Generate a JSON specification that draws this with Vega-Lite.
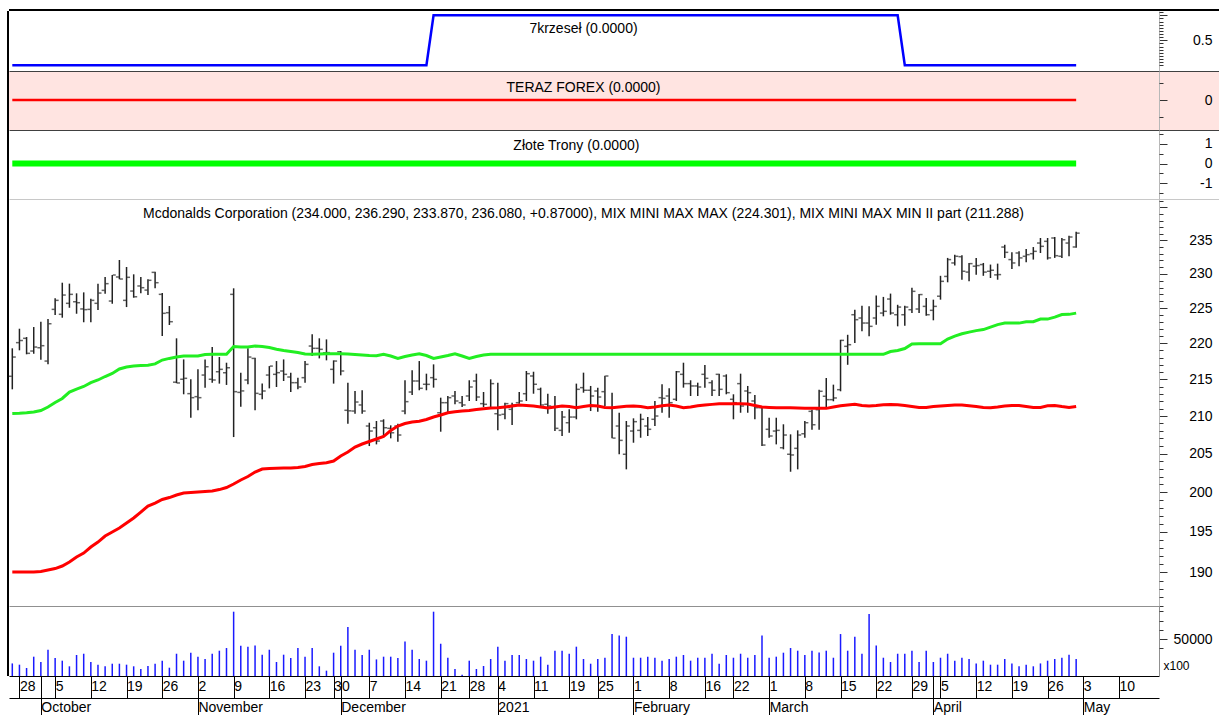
{
"$schema": "https://vega.github.io/schema/vega-lite/v6.json",
"padding": {"left": 0, "top": 8, "right": 0, "bottom": 0},
"autosize": {"type": "pad"},
"bounds": "flush",
"spacing": 0,
"background": "#ffffff",
"config": {"view": {"stroke": null}, "font": "Liberation Sans", "axis": {"labelFont": "Liberation Sans", "labelFontSize": 14, "labelColor": "#000000", "grid": false}},
"datasets": {
"krzesla": [{"date":"2020-09-25","value":0},{"date":"2020-12-17","value":0},{"date":"2020-12-18","value":1},{"date":"2021-03-25","value":1},{"date":"2021-03-26","value":0},{"date":"2021-04-30","value":0}],
"teraz": [{"date":"2020-09-25","value":0},{"date":"2021-04-30","value":0}],
"trony": [{"date":"2020-09-25","value":0},{"date":"2021-04-30","value":0}],
"prices": [
{"date":"2020-09-25","open":215.41,"high":219.30,"low":213.62,"close":218.08,"volume":17000,"mmMax":210.33,"mmMin":190.04},
{"date":"2020-09-28","open":220.10,"high":222.07,"low":219.02,"close":220.40,"volume":15300,"mmMax":210.36,"mmMin":190.04},
{"date":"2020-09-29","open":220.71,"high":220.89,"low":218.46,"close":218.60,"volume":10800,"mmMax":210.43,"mmMin":190.04},
{"date":"2020-09-30","open":218.92,"high":222.31,"low":218.54,"close":219.48,"volume":26100,"mmMax":210.54,"mmMin":190.04},
{"date":"2020-10-01","open":219.38,"high":223.07,"low":217.70,"close":219.67,"volume":18900,"mmMax":210.74,"mmMin":190.10},
{"date":"2020-10-02","open":217.52,"high":223.45,"low":217.07,"close":222.78,"volume":35500,"mmMax":211.21,"mmMin":190.28},
{"date":"2020-10-05","open":224.84,"high":226.43,"low":224.03,"close":226.14,"volume":24300,"mmMax":211.82,"mmMin":190.46},
{"date":"2020-10-06","open":224.13,"high":228.71,"low":223.64,"close":226.91,"volume":20700,"mmMax":212.37,"mmMin":190.77},
{"date":"2020-10-07","open":225.71,"high":228.57,"low":225.07,"close":227.01,"volume":13100,"mmMax":213.25,"mmMin":191.26},
{"date":"2020-10-08","open":225.94,"high":227.16,"low":224.21,"close":225.80,"volume":28400,"mmMax":213.66,"mmMin":191.87},
{"date":"2020-10-09","open":224.90,"high":227.30,"low":222.99,"close":224.80,"volume":30100,"mmMax":214.01,"mmMin":192.36},
{"date":"2020-10-12","open":224.84,"high":226.37,"low":222.99,"close":226.14,"volume":18900,"mmMax":214.53,"mmMin":193.10},
{"date":"2020-10-13","open":225.71,"high":228.57,"low":224.74,"close":227.20,"volume":15300,"mmMax":214.90,"mmMin":193.72},
{"date":"2020-10-14","open":227.59,"high":229.55,"low":227.10,"close":228.57,"volume":13100,"mmMax":215.38,"mmMin":194.47},
{"date":"2020-10-15","open":226.04,"high":229.84,"low":225.65,"close":229.84,"volume":16600,"mmMax":215.80,"mmMin":194.97},
{"date":"2020-10-16","open":229.55,"high":232.06,"low":229.21,"close":229.25,"volume":16600,"mmMax":216.42,"mmMin":195.47},
{"date":"2020-10-19","open":226.14,"high":231.02,"low":225.17,"close":229.50,"volume":15300,"mmMax":216.70,"mmMin":196.09},
{"date":"2020-10-20","open":227.49,"high":229.94,"low":226.52,"close":226.66,"volume":13100,"mmMax":216.84,"mmMin":196.73},
{"date":"2020-10-21","open":228.23,"high":229.55,"low":227.16,"close":227.98,"volume":9500,"mmMax":216.91,"mmMin":197.48},
{"date":"2020-10-22","open":227.63,"high":229.21,"low":226.91,"close":229.06,"volume":13500,"mmMax":216.94,"mmMin":198.24},
{"date":"2020-10-23","open":230.23,"high":230.33,"low":227.89,"close":228.71,"volume":16600,"mmMax":217.12,"mmMin":198.62},
{"date":"2020-10-26","open":227.01,"high":227.20,"low":221.03,"close":224.27,"volume":20700,"mmMax":217.66,"mmMin":199.07},
{"date":"2020-10-27","open":224.36,"high":225.32,"low":222.60,"close":223.07,"volume":11200,"mmMax":217.89,"mmMin":199.32},
{"date":"2020-10-28","open":214.60,"high":220.71,"low":214.45,"close":214.49,"volume":30100,"mmMax":218.08,"mmMin":199.64},
{"date":"2020-10-29","open":215.00,"high":217.75,"low":212.94,"close":215.13,"volume":20700,"mmMax":218.22,"mmMin":199.90},
{"date":"2020-10-30","open":213.03,"high":215.00,"low":209.77,"close":212.48,"volume":31500,"mmMax":218.22,"mmMin":199.96},
{"date":"2020-11-02","open":212.62,"high":216.37,"low":210.77,"close":212.48,"volume":26100,"mmMax":218.22,"mmMin":200.03},
{"date":"2020-11-03","open":215.58,"high":217.75,"low":213.84,"close":216.73,"volume":23000,"mmMax":218.43,"mmMin":200.09},
{"date":"2020-11-04","open":215.00,"high":219.48,"low":214.53,"close":214.90,"volume":30100,"mmMax":218.46,"mmMin":200.15},
{"date":"2020-11-05","open":216.04,"high":218.08,"low":214.40,"close":216.37,"volume":34200,"mmMax":218.46,"mmMin":200.34},
{"date":"2020-11-06","open":215.90,"high":217.29,"low":214.22,"close":216.59,"volume":37800,"mmMax":218.46,"mmMin":200.60},
{"date":"2020-11-09","open":227.01,"high":227.89,"low":207.19,"close":213.30,"volume":86900,"mmMax":219.55,"mmMin":201.05},
{"date":"2020-11-10","open":213.20,"high":215.90,"low":211.25,"close":213.40,"volume":40900,"mmMax":219.48,"mmMin":201.57},
{"date":"2020-11-11","open":214.90,"high":219.30,"low":214.31,"close":218.08,"volume":39600,"mmMax":219.48,"mmMin":202.02},
{"date":"2020-11-12","open":217.89,"high":217.98,"low":210.77,"close":213.07,"volume":41300,"mmMax":219.62,"mmMin":202.60},
{"date":"2020-11-13","open":212.94,"high":214.40,"low":212.26,"close":213.39,"volume":28800,"mmMax":219.55,"mmMin":202.99},
{"date":"2020-11-16","open":215.58,"high":216.82,"low":213.75,"close":216.82,"volume":35500,"mmMax":219.41,"mmMin":203.06},
{"date":"2020-11-17","open":215.68,"high":217.52,"low":213.94,"close":215.91,"volume":18900,"mmMax":219.16,"mmMin":203.09},
{"date":"2020-11-18","open":216.14,"high":217.75,"low":214.76,"close":215.68,"volume":28800,"mmMax":218.99,"mmMin":203.12},
{"date":"2020-11-19","open":215.31,"high":215.91,"low":213.25,"close":214.53,"volume":24300,"mmMax":218.85,"mmMin":203.12},
{"date":"2020-11-20","open":214.53,"high":215.22,"low":213.62,"close":213.94,"volume":37800,"mmMax":218.71,"mmMin":203.19},
{"date":"2020-11-23","open":215.22,"high":217.52,"low":214.53,"close":217.06,"volume":26100,"mmMax":218.50,"mmMin":203.32},
{"date":"2020-11-24","open":219.62,"high":221.27,"low":218.22,"close":219.30,"volume":37800,"mmMax":218.46,"mmMin":203.58},
{"date":"2020-11-25","open":219.30,"high":220.71,"low":217.89,"close":219.16,"volume":13100,"mmMax":218.50,"mmMin":203.71},
{"date":"2020-11-27","open":218.68,"high":220.56,"low":217.62,"close":218.70,"volume":7200,"mmMax":218.54,"mmMin":203.82},
{"date":"2020-11-30","open":216.37,"high":217.62,"low":214.40,"close":217.52,"volume":31500,"mmMax":218.54,"mmMin":204.04},
{"date":"2020-12-01","open":218.82,"high":218.92,"low":215.54,"close":216.14,"volume":40900,"mmMax":218.54,"mmMin":204.69},
{"date":"2020-12-02","open":210.77,"high":214.53,"low":208.97,"close":210.70,"volume":66200,"mmMax":218.50,"mmMin":205.21},
{"date":"2020-12-03","open":210.67,"high":213.39,"low":210.31,"close":211.89,"volume":35500,"mmMax":218.43,"mmMin":205.87},
{"date":"2020-12-04","open":211.49,"high":213.49,"low":210.31,"close":210.67,"volume":28400,"mmMax":218.36,"mmMin":206.27},
{"date":"2020-12-07","open":208.66,"high":209.10,"low":206.00,"close":207.99,"volume":35500,"mmMax":218.29,"mmMin":206.60},
{"date":"2020-12-08","open":208.43,"high":209.33,"low":206.22,"close":206.66,"volume":22400,"mmMax":218.26,"mmMin":206.93},
{"date":"2020-12-09","open":209.33,"high":209.56,"low":207.19,"close":208.43,"volume":26100,"mmMax":218.46,"mmMin":207.26},
{"date":"2020-12-10","open":208.35,"high":208.75,"low":207.02,"close":207.76,"volume":26100,"mmMax":218.22,"mmMin":208.06},
{"date":"2020-12-11","open":208.66,"high":208.97,"low":206.57,"close":207.46,"volume":24300,"mmMax":217.89,"mmMin":208.66},
{"date":"2020-12-14","open":210.67,"high":214.86,"low":210.23,"close":211.94,"volume":46700,"mmMax":218.15,"mmMin":208.99},
{"date":"2020-12-15","open":213.25,"high":216.24,"low":212.85,"close":214.76,"volume":35500,"mmMax":218.36,"mmMin":209.19},
{"date":"2020-12-16","open":214.76,"high":217.52,"low":213.49,"close":213.76,"volume":23000,"mmMax":218.54,"mmMin":209.30},
{"date":"2020-12-17","open":214.31,"high":215.77,"low":213.49,"close":214.30,"volume":20700,"mmMax":218.29,"mmMin":209.53},
{"date":"2020-12-18","open":215.22,"high":217.06,"low":213.85,"close":214.99,"volume":86900,"mmMax":217.89,"mmMin":209.86},
{"date":"2020-12-21","open":210.44,"high":212.48,"low":207.90,"close":211.80,"volume":43600,"mmMax":218.08,"mmMin":210.13},
{"date":"2020-12-22","open":211.80,"high":212.71,"low":210.44,"close":212.48,"volume":24700,"mmMax":218.29,"mmMin":210.44},
{"date":"2020-12-23","open":212.71,"high":213.39,"low":211.58,"close":212.03,"volume":9500,"mmMax":218.54,"mmMin":210.58},
{"date":"2020-12-24","open":211.80,"high":212.71,"low":211.21,"close":211.49,"volume":1800,"mmMax":218.22,"mmMin":210.67},
{"date":"2020-12-28","open":212.71,"high":214.86,"low":212.03,"close":213.94,"volume":20700,"mmMax":217.89,"mmMin":210.74},
{"date":"2020-12-29","open":214.76,"high":215.77,"low":212.03,"close":212.57,"volume":9500,"mmMax":218.15,"mmMin":210.87},
{"date":"2020-12-30","open":211.67,"high":213.25,"low":211.21,"close":211.58,"volume":13500,"mmMax":218.36,"mmMin":210.98},
{"date":"2020-12-31","open":211.12,"high":214.99,"low":211.04,"close":214.40,"volume":23000,"mmMax":218.46,"mmMin":211.07},
{"date":"2021-01-04","open":210.31,"high":214.53,"low":208.08,"close":210.13,"volume":39600,"mmMax":218.46,"mmMin":211.10},
{"date":"2021-01-05","open":210.23,"high":211.80,"low":209.56,"close":211.67,"volume":20700,"mmMax":218.46,"mmMin":211.21},
{"date":"2021-01-06","open":210.90,"high":211.80,"low":208.79,"close":211.49,"volume":28400,"mmMax":218.46,"mmMin":211.34},
{"date":"2021-01-07","open":211.80,"high":213.25,"low":211.67,"close":212.03,"volume":28400,"mmMax":218.46,"mmMin":211.47},
{"date":"2021-01-08","open":213.02,"high":216.14,"low":212.03,"close":215.77,"volume":23000,"mmMax":218.46,"mmMin":211.43},
{"date":"2021-01-11","open":215.45,"high":216.04,"low":213.02,"close":214.31,"volume":20700,"mmMax":218.46,"mmMin":211.34},
{"date":"2021-01-12","open":213.62,"high":213.85,"low":211.12,"close":211.49,"volume":26100,"mmMax":218.46,"mmMin":211.21},
{"date":"2021-01-13","open":211.58,"high":213.02,"low":210.31,"close":211.35,"volume":15300,"mmMax":218.46,"mmMin":211.07},
{"date":"2021-01-14","open":211.21,"high":212.71,"low":207.99,"close":208.35,"volume":34200,"mmMax":218.46,"mmMin":211.21},
{"date":"2021-01-15","open":208.08,"high":210.67,"low":207.33,"close":209.86,"volume":34200,"mmMax":218.46,"mmMin":211.34},
{"date":"2021-01-19","open":209.10,"high":210.90,"low":207.76,"close":209.86,"volume":30100,"mmMax":218.46,"mmMin":211.27},
{"date":"2021-01-20","open":209.86,"high":214.40,"low":209.56,"close":213.62,"volume":39600,"mmMax":218.46,"mmMin":211.11},
{"date":"2021-01-21","open":213.85,"high":215.91,"low":213.16,"close":213.49,"volume":23000,"mmMax":218.46,"mmMin":211.27},
{"date":"2021-01-22","open":213.49,"high":214.08,"low":210.67,"close":212.71,"volume":16600,"mmMax":218.46,"mmMin":211.43},
{"date":"2021-01-25","open":213.39,"high":213.85,"low":210.58,"close":212.57,"volume":23000,"mmMax":218.46,"mmMin":211.34},
{"date":"2021-01-26","open":213.30,"high":215.49,"low":211.35,"close":215.45,"volume":24700,"mmMax":218.46,"mmMin":211.16},
{"date":"2021-01-27","open":211.12,"high":213.16,"low":207.02,"close":207.05,"volume":56700,"mmMax":218.46,"mmMin":211.11},
{"date":"2021-01-28","open":208.66,"high":210.44,"low":204.92,"close":206.75,"volume":54900,"mmMax":218.46,"mmMin":211.21},
{"date":"2021-01-29","open":204.92,"high":209.33,"low":202.95,"close":208.66,"volume":53100,"mmMax":218.46,"mmMin":211.31},
{"date":"2021-02-01","open":207.99,"high":209.69,"low":206.44,"close":209.24,"volume":24700,"mmMax":218.46,"mmMin":211.34},
{"date":"2021-02-02","open":208.08,"high":210.31,"low":207.10,"close":209.56,"volume":24700,"mmMax":218.46,"mmMin":211.27},
{"date":"2021-02-03","open":208.66,"high":209.86,"low":207.33,"close":208.22,"volume":26100,"mmMax":218.46,"mmMin":211.11},
{"date":"2021-02-04","open":209.56,"high":212.03,"low":208.66,"close":210.00,"volume":24700,"mmMax":218.46,"mmMin":211.23},
{"date":"2021-02-05","open":212.48,"high":214.31,"low":210.44,"close":212.39,"volume":20700,"mmMax":218.46,"mmMin":211.38},
{"date":"2021-02-08","open":212.71,"high":213.76,"low":209.77,"close":211.80,"volume":23000,"mmMax":218.46,"mmMin":211.47},
{"date":"2021-02-09","open":212.26,"high":216.14,"low":212.03,"close":216.04,"volume":26100,"mmMax":218.46,"mmMin":211.34},
{"date":"2021-02-10","open":215.68,"high":217.29,"low":213.85,"close":214.40,"volume":28400,"mmMax":218.46,"mmMin":211.11},
{"date":"2021-02-11","open":214.40,"high":214.86,"low":212.71,"close":214.08,"volume":20700,"mmMax":218.46,"mmMin":211.21},
{"date":"2021-02-12","open":214.08,"high":214.53,"low":212.71,"close":213.94,"volume":24700,"mmMax":218.46,"mmMin":211.38},
{"date":"2021-02-16","open":215.68,"high":216.97,"low":213.85,"close":215.13,"volume":24700,"mmMax":218.46,"mmMin":211.47},
{"date":"2021-02-17","open":214.53,"high":214.86,"low":212.71,"close":213.49,"volume":30100,"mmMax":218.46,"mmMin":211.57},
{"date":"2021-02-18","open":215.68,"high":215.77,"low":212.71,"close":213.62,"volume":16600,"mmMax":218.46,"mmMin":211.65},
{"date":"2021-02-19","open":215.45,"high":215.68,"low":212.94,"close":213.16,"volume":28400,"mmMax":218.46,"mmMin":211.65},
{"date":"2021-02-22","open":212.26,"high":212.94,"low":209.56,"close":211.80,"volume":24700,"mmMax":218.46,"mmMin":211.65},
{"date":"2021-02-23","open":214.40,"high":215.77,"low":210.44,"close":211.35,"volume":30100,"mmMax":218.46,"mmMin":211.65},
{"date":"2021-02-24","open":213.39,"high":214.08,"low":210.44,"close":213.16,"volume":24700,"mmMax":218.46,"mmMin":211.61},
{"date":"2021-02-25","open":212.03,"high":212.85,"low":209.56,"close":211.12,"volume":28400,"mmMax":218.46,"mmMin":211.41},
{"date":"2021-02-26","open":211.12,"high":211.35,"low":206.00,"close":206.13,"volume":54900,"mmMax":218.46,"mmMin":211.21},
{"date":"2021-03-01","open":208.22,"high":209.77,"low":207.10,"close":207.33,"volume":24700,"mmMax":218.46,"mmMin":211.16},
{"date":"2021-03-02","open":207.99,"high":209.77,"low":206.22,"close":208.08,"volume":26100,"mmMax":218.46,"mmMin":211.11},
{"date":"2021-03-03","open":205.78,"high":208.89,"low":205.57,"close":207.46,"volume":31500,"mmMax":218.46,"mmMin":211.11},
{"date":"2021-03-04","open":204.92,"high":207.55,"low":202.64,"close":204.83,"volume":37800,"mmMax":218.46,"mmMin":211.11},
{"date":"2021-03-05","open":205.70,"high":208.08,"low":202.95,"close":207.46,"volume":34200,"mmMax":218.46,"mmMin":211.07},
{"date":"2021-03-08","open":207.63,"high":209.33,"low":207.10,"close":209.10,"volume":28400,"mmMax":218.46,"mmMin":211.03},
{"date":"2021-03-09","open":210.63,"high":210.85,"low":208.16,"close":208.83,"volume":34200,"mmMax":218.46,"mmMin":211.03},
{"date":"2021-03-10","open":210.85,"high":213.57,"low":208.16,"close":213.35,"volume":31900,"mmMax":218.46,"mmMin":211.03},
{"date":"2021-03-11","open":212.67,"high":215.17,"low":211.07,"close":212.21,"volume":34200,"mmMax":218.46,"mmMin":211.03},
{"date":"2021-03-12","open":212.21,"high":214.26,"low":211.99,"close":212.44,"volume":24700,"mmMax":218.46,"mmMin":211.21},
{"date":"2021-03-15","open":213.57,"high":220.51,"low":213.35,"close":220.42,"volume":56700,"mmMax":218.46,"mmMin":211.38},
{"date":"2021-03-16","open":219.58,"high":221.21,"low":217.00,"close":219.81,"volume":34200,"mmMax":218.46,"mmMin":211.47},
{"date":"2021-03-17","open":224.07,"high":224.79,"low":220.05,"close":223.36,"volume":53100,"mmMax":218.46,"mmMin":211.57},
{"date":"2021-03-18","open":223.60,"high":225.36,"low":221.70,"close":222.88,"volume":30100,"mmMax":218.46,"mmMin":211.41},
{"date":"2021-03-19","open":222.88,"high":225.27,"low":220.99,"close":222.41,"volume":83800,"mmMax":218.46,"mmMin":211.34},
{"date":"2021-03-22","open":223.60,"high":226.83,"low":222.65,"close":225.27,"volume":41300,"mmMax":218.46,"mmMin":211.41},
{"date":"2021-03-23","open":224.31,"high":226.64,"low":223.84,"close":224.56,"volume":24700,"mmMax":218.46,"mmMin":211.51},
{"date":"2021-03-24","open":226.33,"high":227.12,"low":224.07,"close":224.31,"volume":18900,"mmMax":218.85,"mmMin":211.57},
{"date":"2021-03-25","open":224.07,"high":225.50,"low":222.41,"close":225.17,"volume":30100,"mmMax":218.99,"mmMin":211.51},
{"date":"2021-03-26","open":224.07,"high":225.36,"low":222.50,"close":225.17,"volume":30100,"mmMax":219.27,"mmMin":211.41},
{"date":"2021-03-29","open":224.79,"high":227.97,"low":224.31,"close":227.45,"volume":34200,"mmMax":219.90,"mmMin":211.27},
{"date":"2021-03-30","open":224.89,"high":227.05,"low":224.31,"close":226.98,"volume":18900,"mmMax":219.94,"mmMin":211.14},
{"date":"2021-03-31","open":225.27,"high":226.49,"low":223.93,"close":224.07,"volume":34200,"mmMax":219.94,"mmMin":211.14},
{"date":"2021-04-01","open":224.70,"high":226.24,"low":223.27,"close":225.27,"volume":18900,"mmMax":219.94,"mmMin":211.27},
{"date":"2021-04-05","open":226.74,"high":229.72,"low":226.24,"close":228.91,"volume":24700,"mmMax":219.94,"mmMin":211.34},
{"date":"2021-04-06","open":229.63,"high":232.37,"low":228.77,"close":232.12,"volume":30100,"mmMax":220.61,"mmMin":211.41},
{"date":"2021-04-07","open":231.62,"high":232.85,"low":231.23,"close":232.61,"volume":20700,"mmMax":221.03,"mmMin":211.47},
{"date":"2021-04-08","open":232.55,"high":232.76,"low":229.15,"close":230.39,"volume":24700,"mmMax":221.35,"mmMin":211.47},
{"date":"2021-04-09","open":230.27,"high":231.62,"low":228.91,"close":231.52,"volume":23000,"mmMax":221.59,"mmMin":211.38},
{"date":"2021-04-12","open":231.14,"high":232.37,"low":229.86,"close":231.23,"volume":17000,"mmMax":221.80,"mmMin":211.27},
{"date":"2021-04-13","open":231.38,"high":231.62,"low":229.72,"close":230.27,"volume":20700,"mmMax":221.95,"mmMin":211.16},
{"date":"2021-04-14","open":230.39,"high":231.38,"low":229.40,"close":230.54,"volume":15300,"mmMax":222.30,"mmMin":211.11},
{"date":"2021-04-15","open":229.86,"high":231.52,"low":229.15,"close":229.90,"volume":15300,"mmMax":222.66,"mmMin":211.21},
{"date":"2021-04-16","open":233.99,"high":234.34,"low":232.37,"close":233.20,"volume":23000,"mmMax":222.87,"mmMin":211.34},
{"date":"2021-04-19","open":232.12,"high":233.20,"low":230.74,"close":231.62,"volume":17000,"mmMax":222.87,"mmMin":211.43},
{"date":"2021-04-20","open":233.10,"high":233.35,"low":231.14,"close":232.37,"volume":13100,"mmMax":222.87,"mmMin":211.41},
{"date":"2021-04-21","open":232.61,"high":233.70,"low":231.72,"close":232.85,"volume":15300,"mmMax":223.06,"mmMin":211.27},
{"date":"2021-04-22","open":233.00,"high":233.99,"low":232.12,"close":233.35,"volume":13100,"mmMax":223.06,"mmMin":211.14},
{"date":"2021-04-23","open":234.59,"high":235.35,"low":233.10,"close":234.10,"volume":17000,"mmMax":223.44,"mmMin":211.16},
{"date":"2021-04-26","open":234.85,"high":235.35,"low":232.12,"close":232.37,"volume":20700,"mmMax":223.44,"mmMin":211.38},
{"date":"2021-04-27","open":235.35,"high":235.50,"low":232.37,"close":232.70,"volume":23000,"mmMax":223.73,"mmMin":211.43},
{"date":"2021-04-28","open":232.61,"high":235.35,"low":232.37,"close":235.09,"volume":24700,"mmMax":224.09,"mmMin":211.27},
{"date":"2021-04-29","open":234.59,"high":235.69,"low":232.61,"close":235.50,"volume":28800,"mmMax":224.12,"mmMin":211.14},
{"date":"2021-04-30","open":234.00,"high":236.29,"low":233.87,"close":236.08,"volume":23000,"mmMax":224.30,"mmMin":211.29}
]
},
"vconcat": [
{
"width": 1210, "height": 60,
"data": {"name": "krzesla"},
"layer": [
{"mark": {"type": "line", "color": "#0000ff", "strokeWidth": 2.5},
"encoding": {
"x": {"field": "date", "type": "ordinal", "scale": {"type": "point", "padding": 0.734, "align": 0.315, "round": false, "domain": ["2020-09-25","2020-09-28","2020-09-29","2020-09-30","2020-10-01","2020-10-02","2020-10-05","2020-10-06","2020-10-07","2020-10-08","2020-10-09","2020-10-12","2020-10-13","2020-10-14","2020-10-15","2020-10-16","2020-10-19","2020-10-20","2020-10-21","2020-10-22","2020-10-23","2020-10-26","2020-10-27","2020-10-28","2020-10-29","2020-10-30","2020-11-02","2020-11-03","2020-11-04","2020-11-05","2020-11-06","2020-11-09","2020-11-10","2020-11-11","2020-11-12","2020-11-13","2020-11-16","2020-11-17","2020-11-18","2020-11-19","2020-11-20","2020-11-23","2020-11-24","2020-11-25","2020-11-27","2020-11-30","2020-12-01","2020-12-02","2020-12-03","2020-12-04","2020-12-07","2020-12-08","2020-12-09","2020-12-10","2020-12-11","2020-12-14","2020-12-15","2020-12-16","2020-12-17","2020-12-18","2020-12-21","2020-12-22","2020-12-23","2020-12-24","2020-12-28","2020-12-29","2020-12-30","2020-12-31","2021-01-04","2021-01-05","2021-01-06","2021-01-07","2021-01-08","2021-01-11","2021-01-12","2021-01-13","2021-01-14","2021-01-15","2021-01-19","2021-01-20","2021-01-21","2021-01-22","2021-01-25","2021-01-26","2021-01-27","2021-01-28","2021-01-29","2021-02-01","2021-02-02","2021-02-03","2021-02-04","2021-02-05","2021-02-08","2021-02-09","2021-02-10","2021-02-11","2021-02-12","2021-02-16","2021-02-17","2021-02-18","2021-02-19","2021-02-22","2021-02-23","2021-02-24","2021-02-25","2021-02-26","2021-03-01","2021-03-02","2021-03-03","2021-03-04","2021-03-05","2021-03-08","2021-03-09","2021-03-10","2021-03-11","2021-03-12","2021-03-15","2021-03-16","2021-03-17","2021-03-18","2021-03-19","2021-03-22","2021-03-23","2021-03-24","2021-03-25","2021-03-26","2021-03-29","2021-03-30","2021-03-31","2021-04-01","2021-04-05","2021-04-06","2021-04-07","2021-04-08","2021-04-09","2021-04-12","2021-04-13","2021-04-14","2021-04-15","2021-04-16","2021-04-19","2021-04-20","2021-04-21","2021-04-22","2021-04-23","2021-04-26","2021-04-27","2021-04-28","2021-04-29","2021-04-30","2021-05-03","2021-05-04","2021-05-05","2021-05-06","2021-05-07","2021-05-10","2021-05-11","2021-05-12","2021-05-13","2021-05-14","2021-05-17","2021-05-18","2021-05-19","2021-05-20","2021-05-21","2021-05-24","2021-05-25","2021-05-26","2021-05-27"]},
"axis": {"orient": "top", "offset": 1, "translate": 0, "domain": true, "domainColor": "#000000", "domainWidth": 2, "ticks": false, "labels": false, "minExtent": 0, "maxExtent": 0, "grid": false, "title": null}},
"y": {"field": "value", "type": "quantitative", "scale": {"domain": [-0.114, 1.086], "nice": false, "zero": false},
"axis": {"orient": "right", "offset": -60, "domain": true, "domainColor": "#b8b8b8", "tickColor": "#333333", "tickSize": 8, "labelAlign": "right", "labelBaseline": "middle", "labelPadding": 45, "labelFlush": false, "labelOverlap": false, "labelBound": false, "minExtent": 0, "grid": false, "title": null, "values": [0.5, 1], "labelExpr": "datum.value == 0.5 ? '0.5' : ''"}}
}},
{"mark": {"type": "line", "opacity": 0},
"encoding": {"x": {"field": "date", "type": "ordinal", "scale": {"type": "point"}, "axis": null},
"y": {"field": "value", "type": "quantitative", "axis": {"orient": "left", "offset": 1, "translate": 0, "domain": true, "domainColor": "#000000", "domainWidth": 2, "ticks": false, "labels": false, "minExtent": 0, "maxExtent": 0, "grid": false, "title": null}}}},
{"mark": {"type": "line", "opacity": 0},
"encoding": {"x": {"field": "date", "type": "ordinal", "scale": {"type": "point"}, "axis": null},
"y": {"field": "value", "type": "quantitative", "axis": {"orient": "right", "offset": -60, "domain": false, "tickColor": "#333333", "tickSize": 4, "labels": false, "minExtent": 0, "grid": false, "title": null, "values": [0, 0.0625, 0.125, 0.1875, 0.25, 0.3125, 0.375, 0.4375, 0.5625, 0.625, 0.6875, 0.75, 0.8125, 0.875, 0.9375, 1.0625]}}}},
{"data": {"values": [{"label": "7krzeseł (0.0000)"}]},
"mark": {"type": "text", "font": "Liberation Sans", "fontSize": 14, "color": "#000000", "align": "center", "baseline": "middle"},
"encoding": {"x": {"datum": "2021-01-21", "type": "ordinal", "scale": {"type": "point"}, "axis": null}, "y": {"datum": 0.726, "type": "quantitative", "axis": null}, "text": {"field": "label"}}}
],
"resolve": {"axis": {"x": "independent", "y": "independent"}}
},
{
"width": 1210, "height": 59,
"view": {"fill": "#ffe4e1", "stroke": null},
"data": {"name": "teraz"},
"layer": [
{"mark": {"type": "line", "color": "#ff0000", "strokeWidth": 2.5},
"encoding": {
"x": {"field": "date", "type": "ordinal", "scale": {"type": "point", "padding": 0.734, "align": 0.315, "round": false, "domain": ["2020-09-25","2020-09-28","2020-09-29","2020-09-30","2020-10-01","2020-10-02","2020-10-05","2020-10-06","2020-10-07","2020-10-08","2020-10-09","2020-10-12","2020-10-13","2020-10-14","2020-10-15","2020-10-16","2020-10-19","2020-10-20","2020-10-21","2020-10-22","2020-10-23","2020-10-26","2020-10-27","2020-10-28","2020-10-29","2020-10-30","2020-11-02","2020-11-03","2020-11-04","2020-11-05","2020-11-06","2020-11-09","2020-11-10","2020-11-11","2020-11-12","2020-11-13","2020-11-16","2020-11-17","2020-11-18","2020-11-19","2020-11-20","2020-11-23","2020-11-24","2020-11-25","2020-11-27","2020-11-30","2020-12-01","2020-12-02","2020-12-03","2020-12-04","2020-12-07","2020-12-08","2020-12-09","2020-12-10","2020-12-11","2020-12-14","2020-12-15","2020-12-16","2020-12-17","2020-12-18","2020-12-21","2020-12-22","2020-12-23","2020-12-24","2020-12-28","2020-12-29","2020-12-30","2020-12-31","2021-01-04","2021-01-05","2021-01-06","2021-01-07","2021-01-08","2021-01-11","2021-01-12","2021-01-13","2021-01-14","2021-01-15","2021-01-19","2021-01-20","2021-01-21","2021-01-22","2021-01-25","2021-01-26","2021-01-27","2021-01-28","2021-01-29","2021-02-01","2021-02-02","2021-02-03","2021-02-04","2021-02-05","2021-02-08","2021-02-09","2021-02-10","2021-02-11","2021-02-12","2021-02-16","2021-02-17","2021-02-18","2021-02-19","2021-02-22","2021-02-23","2021-02-24","2021-02-25","2021-02-26","2021-03-01","2021-03-02","2021-03-03","2021-03-04","2021-03-05","2021-03-08","2021-03-09","2021-03-10","2021-03-11","2021-03-12","2021-03-15","2021-03-16","2021-03-17","2021-03-18","2021-03-19","2021-03-22","2021-03-23","2021-03-24","2021-03-25","2021-03-26","2021-03-29","2021-03-30","2021-03-31","2021-04-01","2021-04-05","2021-04-06","2021-04-07","2021-04-08","2021-04-09","2021-04-12","2021-04-13","2021-04-14","2021-04-15","2021-04-16","2021-04-19","2021-04-20","2021-04-21","2021-04-22","2021-04-23","2021-04-26","2021-04-27","2021-04-28","2021-04-29","2021-04-30","2021-05-03","2021-05-04","2021-05-05","2021-05-06","2021-05-07","2021-05-10","2021-05-11","2021-05-12","2021-05-13","2021-05-14","2021-05-17","2021-05-18","2021-05-19","2021-05-20","2021-05-21","2021-05-24","2021-05-25","2021-05-26","2021-05-27"]},
"axis": {"orient": "top", "domain": true, "domainColor": "#404040", "domainWidth": 1, "ticks": false, "labels": false, "minExtent": 0, "maxExtent": 0, "grid": false, "title": null}},
"y": {"field": "value", "type": "quantitative", "scale": {"domain": [-1.796, 1.737], "nice": false, "zero": false},
"axis": {"orient": "right", "offset": -60, "domain": true, "domainColor": "#b8b8b8", "tickColor": "#333333", "tickSize": 8, "labelAlign": "right", "labelBaseline": "middle", "labelPadding": 45, "labelFlush": false, "labelOverlap": false, "labelBound": false, "minExtent": 0, "grid": false, "title": null, "values": [0], "labelExpr": "'0'"}}
}},
{"mark": {"type": "line", "opacity": 0},
"encoding": {"x": {"field": "date", "type": "ordinal", "scale": {"type": "point"}, "axis": null},
"y": {"field": "value", "type": "quantitative", "axis": {"orient": "left", "offset": 1, "translate": 0, "domain": true, "domainColor": "#000000", "domainWidth": 2, "ticks": false, "labels": false, "minExtent": 0, "maxExtent": 0, "grid": false, "title": null}}}},
{"mark": {"type": "line", "opacity": 0},
"encoding": {"x": {"field": "date", "type": "ordinal", "scale": {"type": "point"}, "axis": null},
"y": {"field": "value", "type": "quantitative", "axis": {"orient": "right", "offset": -60, "domain": false, "tickColor": "#333333", "tickSize": 4, "labels": false, "minExtent": 0, "grid": false, "title": null, "values": [-1, 1]}}}},
{"data": {"values": [{"label": "TERAZ FOREX (0.0000)"}]},
"mark": {"type": "text", "font": "Liberation Sans", "fontSize": 14, "color": "#000000", "align": "center", "baseline": "middle"},
"encoding": {"x": {"datum": "2021-01-21", "type": "ordinal", "scale": {"type": "point"}, "axis": null}, "y": {"datum": 0.72, "type": "quantitative", "axis": null}, "text": {"field": "label"}}}
],
"resolve": {"axis": {"x": "independent", "y": "independent"}}
},
{
"width": 1210, "height": 69,
"data": {"name": "trony"},
"layer": [
{"mark": {"type": "line", "color": "#00ff00", "strokeWidth": 6},
"encoding": {
"x": {"field": "date", "type": "ordinal", "scale": {"type": "point", "padding": 0.734, "align": 0.315, "round": false, "domain": ["2020-09-25","2020-09-28","2020-09-29","2020-09-30","2020-10-01","2020-10-02","2020-10-05","2020-10-06","2020-10-07","2020-10-08","2020-10-09","2020-10-12","2020-10-13","2020-10-14","2020-10-15","2020-10-16","2020-10-19","2020-10-20","2020-10-21","2020-10-22","2020-10-23","2020-10-26","2020-10-27","2020-10-28","2020-10-29","2020-10-30","2020-11-02","2020-11-03","2020-11-04","2020-11-05","2020-11-06","2020-11-09","2020-11-10","2020-11-11","2020-11-12","2020-11-13","2020-11-16","2020-11-17","2020-11-18","2020-11-19","2020-11-20","2020-11-23","2020-11-24","2020-11-25","2020-11-27","2020-11-30","2020-12-01","2020-12-02","2020-12-03","2020-12-04","2020-12-07","2020-12-08","2020-12-09","2020-12-10","2020-12-11","2020-12-14","2020-12-15","2020-12-16","2020-12-17","2020-12-18","2020-12-21","2020-12-22","2020-12-23","2020-12-24","2020-12-28","2020-12-29","2020-12-30","2020-12-31","2021-01-04","2021-01-05","2021-01-06","2021-01-07","2021-01-08","2021-01-11","2021-01-12","2021-01-13","2021-01-14","2021-01-15","2021-01-19","2021-01-20","2021-01-21","2021-01-22","2021-01-25","2021-01-26","2021-01-27","2021-01-28","2021-01-29","2021-02-01","2021-02-02","2021-02-03","2021-02-04","2021-02-05","2021-02-08","2021-02-09","2021-02-10","2021-02-11","2021-02-12","2021-02-16","2021-02-17","2021-02-18","2021-02-19","2021-02-22","2021-02-23","2021-02-24","2021-02-25","2021-02-26","2021-03-01","2021-03-02","2021-03-03","2021-03-04","2021-03-05","2021-03-08","2021-03-09","2021-03-10","2021-03-11","2021-03-12","2021-03-15","2021-03-16","2021-03-17","2021-03-18","2021-03-19","2021-03-22","2021-03-23","2021-03-24","2021-03-25","2021-03-26","2021-03-29","2021-03-30","2021-03-31","2021-04-01","2021-04-05","2021-04-06","2021-04-07","2021-04-08","2021-04-09","2021-04-12","2021-04-13","2021-04-14","2021-04-15","2021-04-16","2021-04-19","2021-04-20","2021-04-21","2021-04-22","2021-04-23","2021-04-26","2021-04-27","2021-04-28","2021-04-29","2021-04-30","2021-05-03","2021-05-04","2021-05-05","2021-05-06","2021-05-07","2021-05-10","2021-05-11","2021-05-12","2021-05-13","2021-05-14","2021-05-17","2021-05-18","2021-05-19","2021-05-20","2021-05-21","2021-05-24","2021-05-25","2021-05-26","2021-05-27"]},
"axis": {"orient": "top", "domain": true, "domainColor": "#404040", "domainWidth": 1, "ticks": false, "labels": false, "minExtent": 0, "maxExtent": 0, "grid": false, "title": null}},
"y": {"field": "value", "type": "quantitative", "scale": {"domain": [-1.802, 1.701], "nice": false, "zero": false},
"axis": {"orient": "right", "offset": -60, "domain": true, "domainColor": "#b8b8b8", "tickColor": "#333333", "tickSize": 8, "labelAlign": "right", "labelBaseline": "middle", "labelPadding": 45, "labelFlush": false, "labelOverlap": false, "labelBound": false, "minExtent": 0, "grid": false, "title": null, "values": [-1, 0, 1], "labelExpr": "datum.value < 0 ? '-' + (-datum.value) : '' + datum.value"}}
}},
{"mark": {"type": "line", "opacity": 0},
"encoding": {"x": {"field": "date", "type": "ordinal", "scale": {"type": "point"}, "axis": null},
"y": {"field": "value", "type": "quantitative", "axis": {"orient": "left", "offset": 1, "translate": 0, "domain": true, "domainColor": "#000000", "domainWidth": 2, "ticks": false, "labels": false, "minExtent": 0, "maxExtent": 0, "grid": false, "title": null}}}},
{"mark": {"type": "line", "opacity": 0},
"encoding": {"x": {"field": "date", "type": "ordinal", "scale": {"type": "point"}, "axis": null},
"y": {"field": "value", "type": "quantitative", "axis": {"orient": "right", "offset": -60, "domain": false, "tickColor": "#333333", "tickSize": 4, "labels": false, "minExtent": 0, "grid": false, "title": null, "values": [-1.5, -0.5, 0.5, 1.5]}}}},
{"data": {"values": [{"label": "Złote Trony (0.0000)"}]},
"mark": {"type": "text", "font": "Liberation Sans", "fontSize": 14, "color": "#000000", "align": "center", "baseline": "middle"},
"encoding": {"x": {"datum": "2021-01-20", "type": "ordinal", "scale": {"type": "point"}, "axis": null}, "y": {"datum": 0.89, "type": "quantitative", "axis": null}, "text": {"field": "label"}}}
],
"resolve": {"axis": {"x": "independent", "y": "independent"}}
},
{
"width": 1210, "height": 407,
"data": {"name": "prices"},
"layer": [
{"mark": {"type": "rule", "color": "#222222", "strokeWidth": 1.5},
"encoding": {
"x": {"field": "date", "type": "ordinal", "scale": {"type": "point", "padding": 0.734, "align": 0.315, "round": false, "domain": ["2020-09-25","2020-09-28","2020-09-29","2020-09-30","2020-10-01","2020-10-02","2020-10-05","2020-10-06","2020-10-07","2020-10-08","2020-10-09","2020-10-12","2020-10-13","2020-10-14","2020-10-15","2020-10-16","2020-10-19","2020-10-20","2020-10-21","2020-10-22","2020-10-23","2020-10-26","2020-10-27","2020-10-28","2020-10-29","2020-10-30","2020-11-02","2020-11-03","2020-11-04","2020-11-05","2020-11-06","2020-11-09","2020-11-10","2020-11-11","2020-11-12","2020-11-13","2020-11-16","2020-11-17","2020-11-18","2020-11-19","2020-11-20","2020-11-23","2020-11-24","2020-11-25","2020-11-27","2020-11-30","2020-12-01","2020-12-02","2020-12-03","2020-12-04","2020-12-07","2020-12-08","2020-12-09","2020-12-10","2020-12-11","2020-12-14","2020-12-15","2020-12-16","2020-12-17","2020-12-18","2020-12-21","2020-12-22","2020-12-23","2020-12-24","2020-12-28","2020-12-29","2020-12-30","2020-12-31","2021-01-04","2021-01-05","2021-01-06","2021-01-07","2021-01-08","2021-01-11","2021-01-12","2021-01-13","2021-01-14","2021-01-15","2021-01-19","2021-01-20","2021-01-21","2021-01-22","2021-01-25","2021-01-26","2021-01-27","2021-01-28","2021-01-29","2021-02-01","2021-02-02","2021-02-03","2021-02-04","2021-02-05","2021-02-08","2021-02-09","2021-02-10","2021-02-11","2021-02-12","2021-02-16","2021-02-17","2021-02-18","2021-02-19","2021-02-22","2021-02-23","2021-02-24","2021-02-25","2021-02-26","2021-03-01","2021-03-02","2021-03-03","2021-03-04","2021-03-05","2021-03-08","2021-03-09","2021-03-10","2021-03-11","2021-03-12","2021-03-15","2021-03-16","2021-03-17","2021-03-18","2021-03-19","2021-03-22","2021-03-23","2021-03-24","2021-03-25","2021-03-26","2021-03-29","2021-03-30","2021-03-31","2021-04-01","2021-04-05","2021-04-06","2021-04-07","2021-04-08","2021-04-09","2021-04-12","2021-04-13","2021-04-14","2021-04-15","2021-04-16","2021-04-19","2021-04-20","2021-04-21","2021-04-22","2021-04-23","2021-04-26","2021-04-27","2021-04-28","2021-04-29","2021-04-30","2021-05-03","2021-05-04","2021-05-05","2021-05-06","2021-05-07","2021-05-10","2021-05-11","2021-05-12","2021-05-13","2021-05-14","2021-05-17","2021-05-18","2021-05-19","2021-05-20","2021-05-21","2021-05-24","2021-05-25","2021-05-26","2021-05-27"]},
"axis": {"orient": "top", "domain": true, "domainColor": "#c8c8c8", "domainWidth": 1, "ticks": false, "labels": false, "minExtent": 0, "maxExtent": 0, "grid": false, "title": null}},
"y": {"field": "high", "type": "quantitative", "scale": {"type": "log", "domain": [185.95, 241.3], "nice": false, "zero": false},
"axis": {"orient": "right", "offset": -60, "domain": true, "domainColor": "#b8b8b8", "tickColor": "#333333", "tickSize": 8, "labelAlign": "right", "labelBaseline": "middle", "labelPadding": 45, "labelFlush": false, "labelOverlap": false, "labelBound": false, "minExtent": 0, "grid": false, "title": null, "values": [190, 195, 200, 205, 210, 215, 220, 225, 230, 235, 240], "labelExpr": "datum.value >= 240 ? '' : '' + datum.value"}},
"y2": {"field": "low"}
}},
{"mark": {"type": "tick", "orient": "horizontal", "color": "#222222", "size": 3, "thickness": 1.5, "xOffset": -2},
"encoding": {"x": {"field": "date", "type": "ordinal", "scale": {"type": "point"}, "axis": null},
"y": {"field": "open", "type": "quantitative", "scale": {"type": "log"}, "axis": {"orient": "left", "offset": 1, "translate": 0, "domain": true, "domainColor": "#000000", "domainWidth": 2, "ticks": false, "labels": false, "minExtent": 0, "maxExtent": 0, "grid": false, "title": null}}}},
{"mark": {"type": "tick", "orient": "horizontal", "color": "#222222", "size": 3, "thickness": 1.5, "xOffset": 2},
"encoding": {"x": {"field": "date", "type": "ordinal", "scale": {"type": "point"}, "axis": null},
"y": {"field": "close", "type": "quantitative", "scale": {"type": "log"}, "axis": {"orient": "right", "offset": -60, "domain": false, "tickColor": "#333333", "tickSize": 4, "labels": false, "minExtent": 0, "grid": false, "title": null, "values": [186,187,188,189,191,192,193,194,196,197,198,199,201,202,203,204,206,207,208,209,211,212,213,214,216,217,218,219,221,222,223,224,226,227,228,229,231,232,233,234,236,237,238,239,241]}}}},
{"mark": {"type": "line", "color": "#22ee22", "strokeWidth": 3},
"encoding": {"x": {"field": "date", "type": "ordinal", "scale": {"type": "point"}, "axis": null},
"y": {"field": "mmMax", "type": "quantitative", "scale": {"type": "log"}, "axis": null}}},
{"mark": {"type": "line", "color": "#ff0000", "strokeWidth": 3},
"encoding": {"x": {"field": "date", "type": "ordinal", "scale": {"type": "point"}, "axis": null},
"y": {"field": "mmMin", "type": "quantitative", "scale": {"type": "log"}, "axis": null}}},
{"data": {"values": [{"label": "Mcdonalds Corporation (234.000, 236.290, 233.870, 236.080, +0.87000), MIX MINI MAX MAX (224.301), MIX MINI MAX MIN II part (211.288)"}]},
"mark": {"type": "text", "font": "Liberation Sans", "fontSize": 14, "color": "#000000", "align": "center", "baseline": "middle"},
"encoding": {"x": {"datum": "2021-01-21", "type": "ordinal", "scale": {"type": "point"}, "axis": null}, "y": {"datum": 238.99, "type": "quantitative", "scale": {"type": "log"}, "axis": null}, "text": {"field": "label"}}}
],
"resolve": {"axis": {"x": "independent", "y": "independent"}}
},
{
"width": 1150, "height": 70,
"data": {"name": "prices"},
"layer": [
{"mark": {"type": "rule", "color": "#1a1aff", "strokeWidth": 1.5},
"encoding": {
"x": {"field": "date", "type": "ordinal", "scale": {"type": "point", "padding": 0.532, "align": 0.434, "round": false, "domain": ["2020-09-25","2020-09-28","2020-09-29","2020-09-30","2020-10-01","2020-10-02","2020-10-05","2020-10-06","2020-10-07","2020-10-08","2020-10-09","2020-10-12","2020-10-13","2020-10-14","2020-10-15","2020-10-16","2020-10-19","2020-10-20","2020-10-21","2020-10-22","2020-10-23","2020-10-26","2020-10-27","2020-10-28","2020-10-29","2020-10-30","2020-11-02","2020-11-03","2020-11-04","2020-11-05","2020-11-06","2020-11-09","2020-11-10","2020-11-11","2020-11-12","2020-11-13","2020-11-16","2020-11-17","2020-11-18","2020-11-19","2020-11-20","2020-11-23","2020-11-24","2020-11-25","2020-11-27","2020-11-30","2020-12-01","2020-12-02","2020-12-03","2020-12-04","2020-12-07","2020-12-08","2020-12-09","2020-12-10","2020-12-11","2020-12-14","2020-12-15","2020-12-16","2020-12-17","2020-12-18","2020-12-21","2020-12-22","2020-12-23","2020-12-24","2020-12-28","2020-12-29","2020-12-30","2020-12-31","2021-01-04","2021-01-05","2021-01-06","2021-01-07","2021-01-08","2021-01-11","2021-01-12","2021-01-13","2021-01-14","2021-01-15","2021-01-19","2021-01-20","2021-01-21","2021-01-22","2021-01-25","2021-01-26","2021-01-27","2021-01-28","2021-01-29","2021-02-01","2021-02-02","2021-02-03","2021-02-04","2021-02-05","2021-02-08","2021-02-09","2021-02-10","2021-02-11","2021-02-12","2021-02-16","2021-02-17","2021-02-18","2021-02-19","2021-02-22","2021-02-23","2021-02-24","2021-02-25","2021-02-26","2021-03-01","2021-03-02","2021-03-03","2021-03-04","2021-03-05","2021-03-08","2021-03-09","2021-03-10","2021-03-11","2021-03-12","2021-03-15","2021-03-16","2021-03-17","2021-03-18","2021-03-19","2021-03-22","2021-03-23","2021-03-24","2021-03-25","2021-03-26","2021-03-29","2021-03-30","2021-03-31","2021-04-01","2021-04-05","2021-04-06","2021-04-07","2021-04-08","2021-04-09","2021-04-12","2021-04-13","2021-04-14","2021-04-15","2021-04-16","2021-04-19","2021-04-20","2021-04-21","2021-04-22","2021-04-23","2021-04-26","2021-04-27","2021-04-28","2021-04-29","2021-04-30","2021-05-03","2021-05-04","2021-05-05","2021-05-06","2021-05-07","2021-05-10","2021-05-11","2021-05-12","2021-05-13","2021-05-14","2021-05-17"]},
"axis": {"orient": "bottom", "domain": true, "domainColor": "#000000", "ticks": true, "tickColor": "#000000", "tickSize": 22, "labelAlign": "left", "labelBaseline": "top", "labelPadding": -19, "labelDx": 2, "labelAngle": 0, "labelOverlap": false, "labelBound": false, "labelFlush": false, "minExtent": 0, "grid": false, "title": null,
"values": ["2020-09-28","2020-10-01","2020-10-05","2020-10-12","2020-10-19","2020-10-26","2020-11-02","2020-11-09","2020-11-16","2020-11-23","2020-11-30","2020-12-01","2020-12-07","2020-12-14","2020-12-21","2020-12-28","2021-01-04","2021-01-11","2021-01-19","2021-01-25","2021-02-01","2021-02-08","2021-02-16","2021-02-22","2021-03-01","2021-03-08","2021-03-15","2021-03-22","2021-03-29","2021-04-01","2021-04-05","2021-04-12","2021-04-19","2021-04-26","2021-05-03","2021-05-10"],
"labelExpr": "indexof(['2020-10-01','2020-12-01','2021-04-01'], datum.value) >= 0 ? '' : '' + toNumber(slice(datum.value, 8, 10))"}},
"y": {"field": "volume", "type": "quantitative", "scale": {"domain": [0, 94600], "nice": false, "zero": false},
"axis": {"orient": "right", "domain": true, "domainColor": "#909090", "tickColor": "#333333", "tickSize": 8, "labelAlign": "right", "labelBaseline": "middle", "labelPadding": 45, "labelFlush": false, "labelOverlap": false, "labelBound": false, "minExtent": 0, "grid": false, "values": [50000], "labelExpr": "'50000'",
"title": "x100", "titleAngle": 0, "titleX": 4, "titleY": 59, "titleAlign": "left", "titleBaseline": "middle", "titleFontSize": 12, "titleFontWeight": "normal", "titleColor": "#000000", "titleFont": "Liberation Sans"}},
"y2": {"datum": 0}
}},
{"mark": {"type": "rule", "opacity": 0},
"encoding": {
"x": {"field": "date", "type": "ordinal", "scale": {"type": "point"},
"axis": {"orient": "bottom", "offset": 22, "domain": true, "domainColor": "#000000", "ticks": true, "tickColor": "#000000", "tickSize": 17, "labelAlign": "left", "labelBaseline": "top", "labelPadding": -15, "labelDx": 2, "labelAngle": 0, "labelOverlap": false, "labelBound": false, "labelFlush": false, "minExtent": 0, "grid": false, "title": null,
"values": ["2020-10-01","2020-11-02","2020-12-01","2021-01-04","2021-02-01","2021-03-01","2021-04-01","2021-05-03"],
"labelExpr": "slice(datum.value, 5, 7) == '01' ? slice(datum.value, 0, 4) : ['', 'January', 'February', 'March', 'April', 'May', 'June', 'July', 'August', 'September', 'October', 'November', 'December'][toNumber(slice(datum.value, 5, 7))]"}},
"y": {"field": "volume", "type": "quantitative", "axis": {"orient": "left", "offset": 1, "translate": 0, "domain": true, "domainColor": "#000000", "domainWidth": 2, "ticks": false, "labels": false, "minExtent": 0, "maxExtent": 0, "grid": false, "title": null}},
"y2": {"datum": 0}
}},
{"mark": {"type": "rule", "opacity": 0},
"encoding": {
"x": {"field": "date", "type": "ordinal", "scale": {"type": "point"},
"axis": {"orient": "top", "domain": true, "domainColor": "#909090", "ticks": false, "labels": false, "minExtent": 0, "maxExtent": 0, "grid": false, "title": null}},
"y": {"field": "volume", "type": "quantitative", "axis": {"orient": "right", "domain": false, "tickColor": "#333333", "tickSize": 4, "labels": false, "minExtent": 0, "grid": false, "title": null, "values": [37500, 62500, 75000, 87500]}},
"y2": {"datum": 0}
}}
],
"resolve": {"axis": {"x": "independent", "y": "independent"}}
}
]
}
